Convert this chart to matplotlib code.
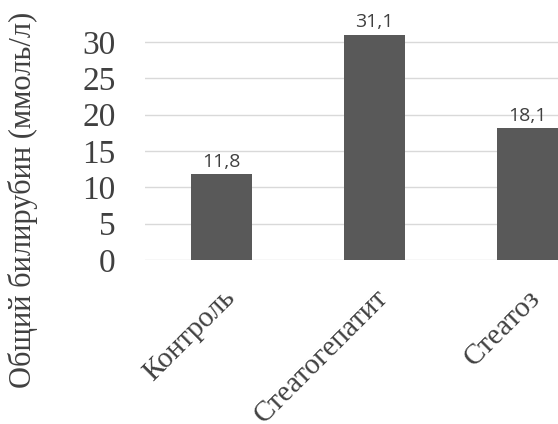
import numpy as np
import matplotlib.pyplot as plt

# data
categories = ['Контроль', 'Стеатогепатит', 'Стеатоз']
values = [11.8, 31.1, 18.1]
value_labels = ['11,8', '31,1', '18,1']
yticks = [0, 5, 10, 15, 20, 25, 30]

fig = plt.figure(figsize=(5.58, 4.24), dpi=100)
# axes run past the right edge, like the cropped original
ax = fig.add_axes([145 / 558, 1 - 260 / 424, 459 / 558, (260 - 42) / 424 * 31 / 30])

x = np.arange(len(categories))
ax.bar(x, values, width=0.4, color='#595959', zorder=3)
ax.set_xlim(-0.5, 2.5)
ax.set_ylim(0, 31)
ax.set_yticks(yticks)
ax.grid(axis='y', color='#d9d9d9', linewidth=1, zorder=0)
for s in ax.spines.values():
    s.set_visible(False)
ax.tick_params(length=0)

for xi, v, lab in zip(x, values, value_labels):
    ax.text(xi, v + 1.0, lab, ha='center', va='baseline', fontsize=14,
            family='Open Sans', color='#404040')

ax.set_yticklabels([str(t) for t in yticks], family='Liberation Serif',
                   fontsize=24, color='#404040')
ax.tick_params(axis='y', pad=21)
ax.set_xticks(x)
ax.set_xticklabels(categories, family='Liberation Serif', fontsize=21,
                   color='#404040', rotation=45, ha='right',
                   rotation_mode='anchor')
ax.tick_params(axis='x', pad=18)

fig.text(23 / 558, 1 - 200 / 424, 'Общий билирубин (ммоль/л)', rotation=90,
         ha='center', va='center', family='Liberation Serif', fontsize=22,
         color='#404040')

fig.savefig('out.png', dpi=100)
